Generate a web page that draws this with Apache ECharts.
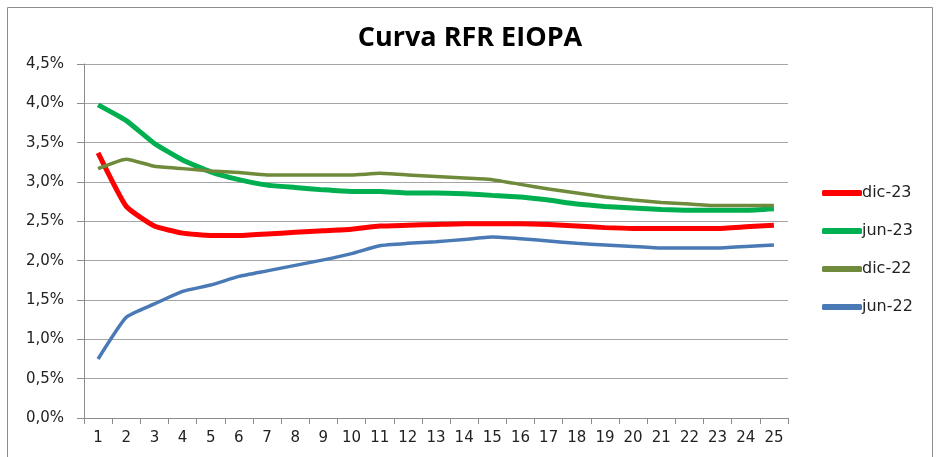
<!DOCTYPE html>
<html lang="es">
<head>
    <meta charset="UTF-8">
    <title>Curva RFR EIOPA</title>
    <script src="https://cdn.jsdelivr.net/npm/echarts@6/dist/echarts.min.js"></script>
    <style>
        html, body {margin: 0; padding: 0; background: #fff;}
        #chart {width: 940px; height: 457px;}
    </style>
</head>
<body>
<div id="chart"></div>
<script>
    // plazos (años)
    var plazos = ['1','2','3','4','5','6','7','8','9','10','11','12','13','14','15','16','17','18','19','20','21','22','23','24','25'];
    // tipos en %
    var dic23 = [3.37, 2.69, 2.44, 2.35, 2.32, 2.32, 2.34, 2.36, 2.38, 2.40, 2.44, 2.45, 2.46, 2.47, 2.47, 2.47, 2.46, 2.44, 2.42, 2.41, 2.41, 2.41, 2.41, 2.43, 2.45];
    var jun23 = [3.98, 3.78, 3.49, 3.28, 3.13, 3.03, 2.96, 2.93, 2.90, 2.88, 2.88, 2.86, 2.86, 2.85, 2.83, 2.81, 2.77, 2.72, 2.69, 2.67, 2.65, 2.64, 2.64, 2.64, 2.66];
    var dic22 = [3.17, 3.29, 3.20, 3.17, 3.14, 3.12, 3.09, 3.09, 3.09, 3.09, 3.11, 3.09, 3.07, 3.05, 3.03, 2.97, 2.91, 2.86, 2.81, 2.77, 2.74, 2.72, 2.70, 2.70, 2.70];
    var jun22 = [0.75, 1.28, 1.45, 1.61, 1.69, 1.80, 1.87, 1.94, 2.01, 2.09, 2.19, 2.22, 2.24, 2.27, 2.30, 2.28, 2.25, 2.22, 2.20, 2.18, 2.16, 2.16, 2.16, 2.18, 2.20];

    var myChart = echarts.init(document.getElementById('chart'));

    function serie(nombre, datos, color, ancho) {
        return {
            name: nombre,
            type: 'line',
            data: datos,
            smooth: 0.15,
            showSymbol: false,
            symbol: 'none',
            lineStyle: {color: color, width: ancho},
            itemStyle: {color: color}
        };
    }

    var option = {
        animation: false,
        textStyle: {fontFamily: 'DejaVu Sans'},
        graphic: [{
            type: 'rect',
            shape: {x: 7.5, y: 7.5, width: 925, height: 470},
            style: {fill: 'none', stroke: '#8c8c8c', lineWidth: 1}
        }],
        title: {
            text: 'Curva RFR EIOPA',
            left: 'center',
            top: 20,
            textStyle: {fontFamily: 'Open Sans', fontSize: 27, fontWeight: 'bold', color: '#000'}
        },
        legend: {
            orient: 'vertical',
            left: 817,
            top: 180,
            itemWidth: 40,
            itemHeight: 6,
            itemGap: 22,
            icon: 'roundRect',
            textStyle: {fontSize: 16, color: '#222', padding: [0, 0, 0, -5]},
            data: ['dic-23', 'jun-23', 'dic-22', 'jun-22']
        },
        grid: {left: 84, right: 152, top: 64, bottom: 39},
        xAxis: {
            type: 'category',
            data: plazos,
            boundaryGap: true,
            axisLine: {lineStyle: {color: '#8c8c8c', width: 1}},
            axisTick: {show: true, length: 6, lineStyle: {color: '#8c8c8c'}},
            axisLabel: {fontSize: 15, color: '#222', margin: 13}
        },
        yAxis: {
            type: 'value',
            min: 0,
            max: 4.5,
            interval: 0.5,
            axisLine: {show: true, lineStyle: {color: '#8c8c8c', width: 1}},
            axisTick: {show: true, length: 7, lineStyle: {color: '#8c8c8c'}},
            splitLine: {lineStyle: {color: '#a6a6a6', width: 1}},
            axisLabel: {
                fontSize: 15, color: '#222', margin: 20,
                formatter: function (v) { return v.toFixed(1).replace('.', ',') + '%'; }
            }
        },
        series: [
            serie('dic-23', dic23, '#ff0000', 5),
            serie('jun-23', jun23, '#00b050', 5),
            serie('dic-22', dic22, '#6f8a3a', 3.5),
            serie('jun-22', jun22, '#4a7ab5', 3.5)
        ]
    };
    myChart.setOption(option);
</script>
</body>
</html>
